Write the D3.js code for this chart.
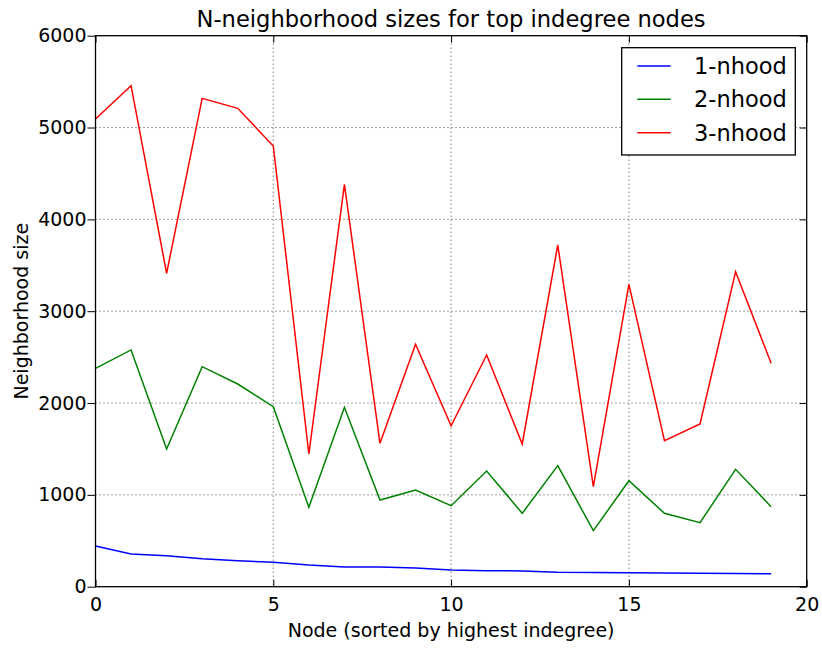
<!DOCTYPE html>
<html><head><meta charset="utf-8">
<script src="https://cdn.jsdelivr.net/npm/d3@7"></script>
<style>body{margin:0;background:#fff}svg{display:block}text{font-family:"DejaVu Sans",sans-serif;fill:#000}</style>
</head><body><svg id="c" width="822" height="648"></svg>
<script>
const nodes = d3.range(20);
const nhood1 = [443,356,338,305,283,266,236,215,215,204,182,174,172,157,155,153,150,147,143,142];
const nhood2 = [2378,2578,1500,2396,2207,1960,864,1953,944,1053,882,1260,799,1318,610,1154,799,697,1278,871];
const nhood3 = [5093,5456,3413,5318,5209,4799,1445,4382,1561,2640,1753,2523,1554,3721,1089,3293,1590,1772,3430,2433];
const seriesNames = ["1-nhood","2-nhood","3-nhood"];
const seriesColors = ["#0000ff","#008000","#ff0000"];
const xTicks = [0,5,10,15,20];
const yTicks = [0,1000,2000,3000,4000,5000,6000];

const svg = d3.select("#c");
const L=95.5,R=806.7,T=35.7,B=586.7;
const x = d3.scaleLinear().domain([0,20]).range([L,R]);
const y = d3.scaleLinear().domain([0,6000]).range([B,T]);

// grid
const g = svg.append("g");
g.selectAll(".gx").data(xTicks.slice(1,-1)).join("line")
 .attr("x1",d=>x(d)).attr("x2",d=>x(d)).attr("y1",T).attr("y2",B)
 .attr("stroke","#000").attr("stroke-opacity",0.75).attr("stroke-dasharray","1,3");
g.selectAll(".gy").data(yTicks.slice(1,-1)).join("line")
 .attr("y1",d=>y(d)).attr("y2",d=>y(d)).attr("x1",L).attr("x2",R)
 .attr("stroke","#000").attr("stroke-opacity",0.75).attr("stroke-dasharray","1,3");

// lines
const series=[nhood1,nhood2,nhood3];
const line = d3.line().x((d,i)=>x(nodes[i])).y(d=>y(d));
series.forEach((s,k)=>{
  svg.append("path").datum(s).attr("d",line).attr("fill","none")
   .attr("stroke",seriesColors[k]).attr("stroke-width",1.5).attr("stroke-linejoin","miter");
});

// axes
const fs=19;
const fmt=d3.format("d");
const ax = svg.append("g").attr("transform",`translate(0,${B})`).call(d3.axisBottom(x).tickValues(xTicks).tickFormat(fmt).tickSize(-7).tickPadding(11));
const axt = svg.append("g").attr("transform",`translate(0,${T})`).call(d3.axisTop(x).tickValues(xTicks).tickSize(-7).tickFormat(""));
const ay = svg.append("g").attr("transform",`translate(${L},0)`).call(d3.axisLeft(y).tickValues(yTicks).tickFormat(fmt).tickSize(8).tickPadding(1));
const ayr = svg.append("g").attr("transform",`translate(${R},0)`).call(d3.axisRight(y).tickValues(yTicks).tickSize(-7).tickFormat(""));
[ax,axt,ay,ayr].forEach(a=>{a.select(".domain").remove();a.selectAll("text").attr("font-size",fs).attr("font-family","DejaVu Sans").attr("fill","#000");a.selectAll(".tick line").attr("stroke","#000");});

svg.append("rect").attr("x",L).attr("y",T).attr("width",R-L).attr("height",B-T).attr("fill","none").attr("stroke","#000").attr("stroke-width",1.3);

svg.append("text").attr("x",(L+R)/2).attr("y",27).attr("text-anchor","middle").attr("font-size",22.6).text("N-neighborhood sizes for top indegree nodes");
svg.append("text").attr("x",(L+R)/2).attr("y",637).attr("text-anchor","middle").attr("font-size",19).text("Node (sorted by highest indegree)");
svg.append("text").attr("transform",`translate(28,${(T+B)/2}) rotate(-90)`).attr("text-anchor","middle").attr("font-size",19).text("Neighborhood size");

// legend
const lg = svg.append("g");
lg.append("rect").attr("x",621.7).attr("y",47.7).attr("width",173.6).attr("height",107.3).attr("fill","#fff").attr("stroke","#000").attr("stroke-width",1.3);
seriesNames.forEach((n,i)=>{
  const yy=66+i*33.35;
  lg.append("line").attr("x1",637.3).attr("x2",670.7).attr("y1",yy).attr("y2",yy).attr("stroke",seriesColors[i]).attr("stroke-width",1.5);
  lg.append("text").attr("x",694).attr("y",yy+8).attr("font-size",22.5).text(n);
});
</script></body></html>
